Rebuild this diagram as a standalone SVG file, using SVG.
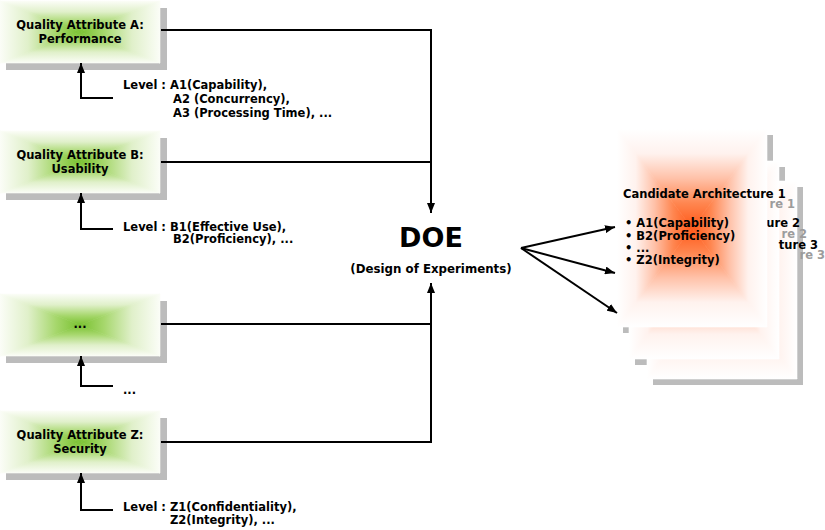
<svg xmlns="http://www.w3.org/2000/svg" width="825" height="530" viewBox="0 0 825 530">
  <style>
    text { font-family: "DejaVu Sans", Verdana, "Liberation Sans", sans-serif; font-weight: bold; fill: #000; }
    .t { font-size: 11.5px; }
    .mid { text-anchor: middle; }
    .end { text-anchor: end; }
    .ghost { fill: #9c9c9c; }
    .shadow { fill: #bcbcbc; }
    .wire { fill: none; stroke: #000; stroke-width: 2; }
    .arrow { marker-end: url(#head); }
  </style>
  <defs>
    <marker id="head" viewBox="0 0 10 8" refX="10" refY="4" markerWidth="10" markerHeight="8" markerUnits="userSpaceOnUse" orient="auto">
      <path d="M0,0 L10,4 L0,8 z" fill="#000"/>
    </marker>

    <!-- colour ramps: edge (offset 0) to centre (offset 1) -->
    <linearGradient id="green-ramp">
      <stop offset="0" stop-color="#fbfdf7"/>
      <stop offset="0.35" stop-color="#e0f0ca"/>
      <stop offset="0.7" stop-color="#a6d76c"/>
      <stop offset="1" stop-color="#79c130"/>
    </linearGradient>
    <linearGradient id="orange-ramp">
      <stop offset="0" stop-color="#ffffff"/>
      <stop offset="0.25" stop-color="#fff2ee"/>
      <stop offset="0.5" stop-color="#ffc1a8"/>
      <stop offset="0.75" stop-color="#ff8650"/>
      <stop offset="1" stop-color="#ff5818"/>
    </linearGradient>

    <!-- rectangular (path) gradient built from four triangles -->
    <linearGradient id="gT-green" href="#green-ramp" x1="0" y1="0" x2="0" y2="1"/>
    <linearGradient id="gB-green" href="#green-ramp" x1="0" y1="1" x2="0" y2="0"/>
    <linearGradient id="gL-green" href="#green-ramp" x1="0" y1="0" x2="1" y2="0"/>
    <linearGradient id="gR-green" href="#green-ramp" x1="1" y1="0" x2="0" y2="0"/>
    <linearGradient id="gT-orange" href="#orange-ramp" x1="0" y1="0" x2="0" y2="1"/>
    <linearGradient id="gB-orange" href="#orange-ramp" x1="0" y1="1" x2="0" y2="0"/>
    <linearGradient id="gL-orange" href="#orange-ramp" x1="0" y1="0" x2="1" y2="0"/>
    <linearGradient id="gR-orange" href="#orange-ramp" x1="1" y1="0" x2="0" y2="0"/>

    <!-- attribute box: 160 x 62 with drop shadow -->
    <g id="attr-box">
      <rect class="shadow" x="6" y="7" width="161" height="62"/>
      <rect x="0" y="0" width="160" height="62" fill="#fff"/>
      <polygon points="0,0 160,0 80,31" fill="url(#gT-green)" stroke="url(#gT-green)" stroke-width="0.6"/>
      <polygon points="0,62 160,62 80,31" fill="url(#gB-green)" stroke="url(#gB-green)" stroke-width="0.6"/>
      <polygon points="0,0 0,62 80,31" fill="url(#gL-green)" stroke="url(#gL-green)" stroke-width="0.6"/>
      <polygon points="160,0 160,62 80,31" fill="url(#gR-green)" stroke="url(#gR-green)" stroke-width="0.6"/>
    </g>

    <!-- candidate card body: 150 x 198 -->
    <g id="card-body">
      <rect x="0" y="0" width="150" height="198" fill="#fff"/>
      <polygon points="0,0 150,0 75,99" fill="url(#gT-orange)" stroke="url(#gT-orange)" stroke-width="0.6"/>
      <polygon points="0,198 150,198 75,99" fill="url(#gB-orange)" stroke="url(#gB-orange)" stroke-width="0.6"/>
      <polygon points="0,0 0,198 75,99" fill="url(#gL-orange)" stroke="url(#gL-orange)" stroke-width="0.6"/>
      <polygon points="150,0 150,198 75,99" fill="url(#gR-orange)" stroke="url(#gR-orange)" stroke-width="0.6"/>
    </g>
    <!-- card drop shadow: right and bottom bars -->
    <path id="card-shadow" d="M150,6 h6 v198 h-150 v-6 h144 z"/>
  </defs>

  <!-- quality attribute nodes -->
  <g id="attr-a">
    <use href="#attr-box" x="0" y="1"/>
    <text class="t mid" x="80" y="29">Quality Attribute A:</text>
    <text class="t mid" x="80" y="43">Performance</text>
  </g>
  <g id="attr-b">
    <use href="#attr-box" x="0" y="131"/>
    <text class="t mid" x="80" y="159">Quality Attribute B:</text>
    <text class="t mid" x="80" y="173">Usability</text>
  </g>
  <g id="attr-etc">
    <use href="#attr-box" x="0" y="294"/>
    <text class="t mid" x="80" y="328">...</text>
  </g>
  <g id="attr-z">
    <use href="#attr-box" x="0" y="411"/>
    <text class="t mid" x="80" y="439">Quality Attribute Z:</text>
    <text class="t mid" x="80" y="453">Security</text>
  </g>

  <!-- level labels -->
  <g id="levels-a">
    <text class="t" x="123" y="89">Level :</text>
    <text class="t" x="170" y="89">A1(Capability),</text>
    <text class="t" x="173" y="103">A2 (Concurrency),</text>
    <text class="t" x="173" y="117">A3 (Processing Time), ...</text>
  </g>
  <g id="levels-b">
    <text class="t" x="123" y="231">Level :</text>
    <text class="t" x="170" y="231">B1(Effective Use),</text>
    <text class="t" x="173" y="243">B2(Proficiency), ...</text>
  </g>
  <g id="levels-etc">
    <text class="t" x="123" y="394">...</text>
  </g>
  <g id="levels-z">
    <text class="t" x="123" y="511">Level :</text>
    <text class="t" x="170" y="511">Z1(Confidentiality),</text>
    <text class="t" x="170" y="524">Z2(Integrity), ...</text>
  </g>

  <!-- DOE hub -->
  <g id="doe">
    <text class="mid" x="431" y="247" font-size="27">DOE</text>
    <text class="mid" x="431" y="273" font-size="11.8">(Design of Experiments)</text>
  </g>

  <!-- candidate architectures (stacked, back to front) -->
  <g id="card-shadows" class="shadow">
    <use href="#card-shadow" x="647" y="181"/>
    <use href="#card-shadow" x="629" y="161"/>
    <use href="#card-shadow" x="617" y="129"/>
  </g>
  <g id="card-3">
    <use href="#card-body" x="647" y="181"/>
    <text class="t ghost end" x="825" y="259">re 3</text>
  </g>
  <g id="card-2">
    <use href="#card-body" x="629" y="161"/>
    <text class="t end" x="818" y="249">ture 3</text>
    <text class="t ghost end" x="807" y="238">re 2</text>
  </g>
  <g id="card-1">
    <text class="t end" x="800" y="227">ure 2</text>
    <text class="t ghost end" x="795" y="208">re 1</text>
    <use href="#card-body" x="617" y="129"/>
    <text class="t" x="623" y="198">Candidate Architecture 1</text>
    <text class="t" x="625" y="227">• A1(Capability)</text>
    <text class="t" x="625" y="240">• B2(Proficiency)</text>
    <text class="t" x="625" y="252">• ...</text>
    <text class="t" x="625" y="264">• Z2(Integrity)</text>
  </g>

  <!-- connectors -->
  <g id="connectors" class="wire">
    <polyline class="arrow" points="161,30 431,30 431,213"/>
    <polyline points="161,162 431,162"/>
    <polyline points="161,324 431,324"/>
    <polyline class="arrow" points="161,442 431,442 431,283"/>

    <polyline class="arrow" points="113,98 81,98 81,63"/>
    <polyline class="arrow" points="113,229 81,229 81,193"/>
    <polyline class="arrow" points="113,386 81,386 81,356"/>
    <polyline class="arrow" points="113,510 81,510 81,473"/>

    <line class="arrow" x1="521" y1="248" x2="615" y2="227"/>
    <line class="arrow" x1="521" y1="248" x2="615" y2="273"/>
    <line class="arrow" x1="521" y1="248" x2="617" y2="313"/>
  </g>
</svg>
